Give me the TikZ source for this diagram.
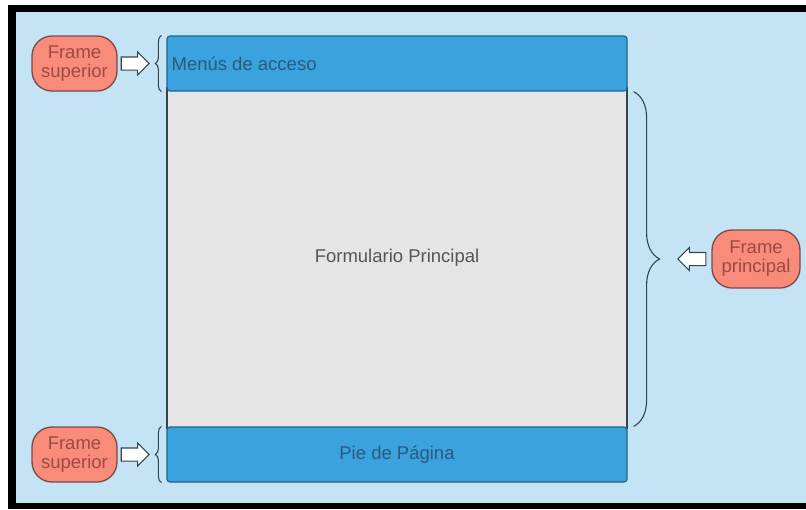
\documentclass[tikz,border=0pt]{standalone}
\usepackage{fontspec}
\setmainfont{Liberation Sans}
\usetikzlibrary{shapes.arrows,decorations.pathreplacing}
\definecolor{bgblue}{HTML}{C4E4F6}
\definecolor{barblue}{HTML}{3AA2DC}
\definecolor{barline}{HTML}{24628A}
\definecolor{formgray}{HTML}{E5E5E5}
\definecolor{formline}{HTML}{34444F}
\definecolor{salmon}{HTML}{F98B7A}
\definecolor{salmonline}{HTML}{7A4A48}
\definecolor{salmontext}{HTML}{9B4A44}
\definecolor{bartext}{HTML}{2B5A80}
\definecolor{graytext}{HTML}{555555}
\begin{document}
\begin{tikzpicture}[x=1pt,y=-1pt,
  bar/.style={draw=barline,line width=1.2pt,fill=barblue,rounded corners=3pt,text=bartext,font=\fontsize{18.5}{18.5}\selectfont},
  frametag/.style={draw=salmonline,line width=1.3pt,fill=salmon,rounded corners=20pt,text=salmontext,align=center,font=\fontsize{18.5}{19}\selectfont,inner sep=0pt},
  blockarrow/.style={single arrow,draw=formline,fill=white,line width=1.1pt,inner sep=6pt,single arrow head extend=5pt,minimum height=28pt,minimum width=23pt},
  bracestyle/.style={draw=formline,line width=1.1pt,decorate}]
\useasboundingbox (0,0) rectangle (806,509);
\fill[black] (8,5) rectangle (806,509);
\fill[bgblue] (16,12) rectangle (806,503);
% main form
\node[draw=formline,line width=1.2pt,fill=formgray,minimum width=460pt,minimum height=340pt,inner sep=0pt,text=graytext,font=\fontsize{18.5}{18.5}\selectfont] (form) at (397,258) {Formulario Principal};
\node[bar,minimum width=460pt,minimum height=55pt,inner sep=0pt] (menu) at (397,63.5) {};
\node[anchor=west,text=bartext,font=\fontsize{18.5}{18.5}\selectfont,inner sep=0pt] (menutext) at ([xshift=5pt]menu.west) {Menús de acceso};
\node[bar,minimum width=460pt,minimum height=55pt,inner sep=0pt] (pie) at (397,454.5) {Pie de Página};
% tags
\node[frametag,minimum width=85pt,minimum height=55pt] (tag1) at (74.5,63.5) {Frame\\superior};
\node[frametag,minimum width=85pt,minimum height=55pt] (tag2) at (74.5,454.5) {Frame\\superior};
\node[frametag,minimum width=88pt,minimum height=58pt] (tag3) at (756,259) {Frame\\principal};
% braces
\coordinate (b1s) at ([xshift=-5pt]menu.south west);
\coordinate (b1e) at ([xshift=-5pt]menu.north west);
\draw[bracestyle,decoration={brace,amplitude=6pt}] (b1s) -- (b1e);
\coordinate (b2s) at ([xshift=-5pt]pie.south west);
\coordinate (b2e) at ([xshift=-5pt]pie.north west);
\draw[bracestyle,decoration={brace,amplitude=6pt}] (b2s) -- (b2e);
\coordinate (b3s) at ([xshift=6pt]menu.south east);
\coordinate (b3e) at ([xshift=6pt]pie.north east);
\draw[bracestyle,decoration={brace,amplitude=26pt,aspect=0.5}] (b3s) -- (b3e);
% block arrows
\node[blockarrow,anchor=tail] (ar1) at ([xshift=3pt]tag1.east) {};
\node[blockarrow,anchor=tail] (ar2) at ([xshift=3pt]tag2.east) {};
\node[blockarrow,shape border rotate=180,anchor=tail] (ar3) at ([xshift=-5pt]tag3.west) {};
\end{tikzpicture}
\end{document}
